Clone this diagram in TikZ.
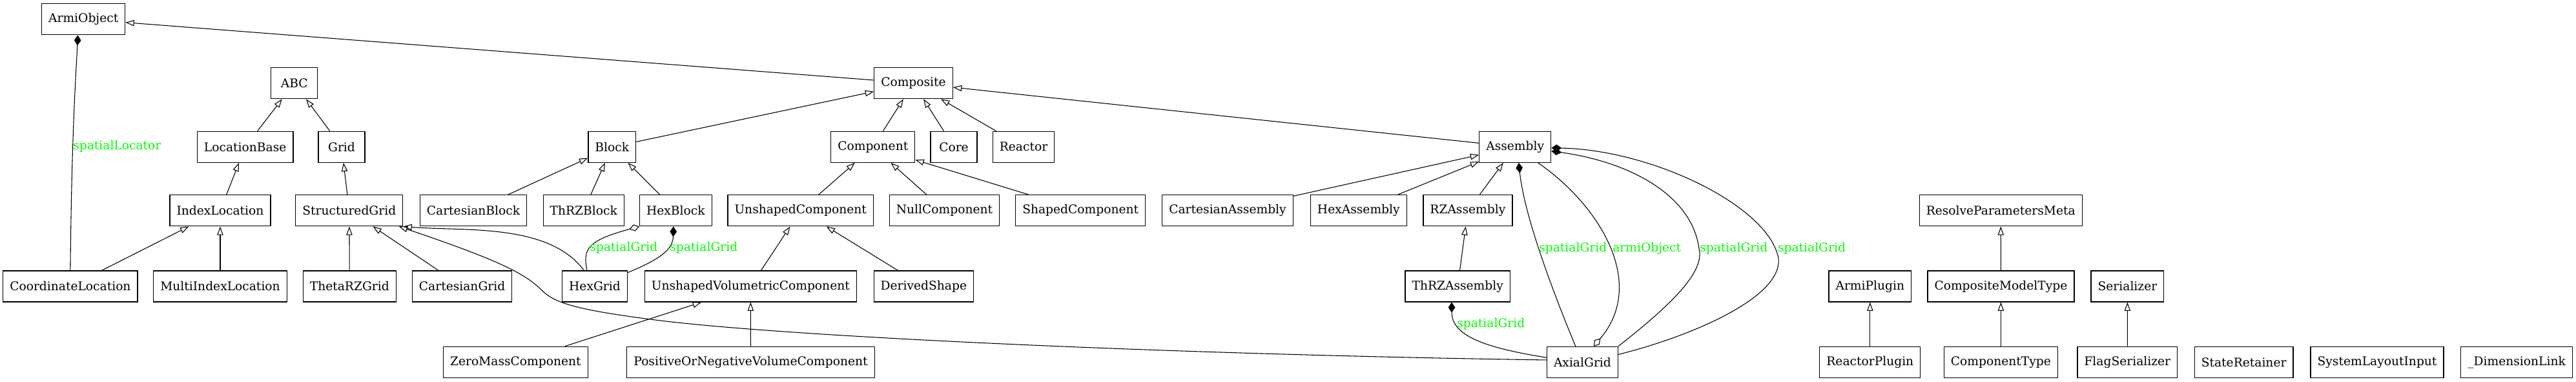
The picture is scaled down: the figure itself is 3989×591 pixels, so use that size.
\documentclass[tikz,border=0pt]{standalone}
\usepackage{fontspec}
\setmainfont{DejaVu Serif}
\usetikzlibrary{arrows.meta}

\begin{document}
\begin{tikzpicture}[x=0.75pt, y=-0.75pt,
        cls/.style = {draw, line width=0.9pt, minimum width=54pt, minimum height=36pt,
            inner xsep=7.92pt, inner ysep=0pt, font=\fontsize{14pt}{16pt}\selectfont},
        lbl/.style = {text=green, anchor=west, inner sep=0pt, font=\fontsize{14pt}{16pt}\selectfont},
        isA/.style = {-{Triangle[open, length=10pt, width=7pt]}, line width=0.8pt},
        hasA/.style = {-{Diamond[length=12pt, width=8pt]}, line width=0.8pt},
        hasAopen/.style = {-{Diamond[open, length=12pt, width=8pt]}, line width=0.8pt}]

            \useasboundingbox (0,0) rectangle (3989,591);

            % Classes, row by row
            \node[cls] (ArmiObject) at (129.2,29.8) {ArmiObject};

            \node[cls] (ABC) at (455.8,128.7) {ABC};
            \node[cls] (Composite) at (1414.5,128.7) {Composite};

            \node[cls] (LocationBase) at (379.7,227.3) {LocationBase};
            \node[cls] (Grid) at (529,227.3) {Grid};
            \node[cls] (Block) at (947.8,227.3) {Block};
            \node[cls] (Component) at (1351.8,227.3) {Component};
            \node[cls] (Core) at (1477,227.3) {Core};
            \node[cls] (Reactor) at (1585,227.3) {Reactor};
            \node[cls] (Assembly) at (2346.2,227.3) {Assembly};

            \node[cls] (IndexLocation) at (341,325.8) {IndexLocation};
            \node[cls] (StructuredGrid) at (540.8,325.8) {StructuredGrid};
            \node[cls] (CartesianBlock) at (733,325.8) {CartesianBlock};
            \node[cls] (ThRZBlock) at (903.8,325.8) {ThRZBlock};
            \node[cls] (HexBlock) at (1046.4,325.8) {HexBlock};
            \node[cls] (UnshapedComponent) at (1239.7,325.8) {UnshapedComponent};
            \node[cls] (NullComponent) at (1462.5,325.8) {NullComponent};
            \node[cls] (ShapedComponent) at (1673.2,325.8) {ShapedComponent};
            \node[cls] (CartesianAssembly) at (1901,325.8) {CartesianAssembly};
            \node[cls] (HexAssembly) at (2103.8,325.8) {HexAssembly};
            \node[cls] (RZAssembly) at (2272.9,325.8) {RZAssembly};
            \node[cls] (ResolveParametersMeta) at (3098.2,325.8) {ResolveParametersMeta};

            \node[cls] (CoordinateLocation) at (108.9,443) {CoordinateLocation};
            \node[cls] (MultiIndexLocation) at (341,443) {MultiIndexLocation};
            \node[cls] (ThetaRZGrid) at (541.3,443) {ThetaRZGrid};
            \node[cls] (CartesianGrid) at (715.6,443) {CartesianGrid};
            \node[cls] (HexGrid) at (921,443) {HexGrid};
            \node[cls] (UnshapedVolumetricComponent) at (1162.3,443) {UnshapedVolumetricComponent};
            \node[cls] (DerivedShape) at (1430.4,443) {DerivedShape};
            \node[cls] (ThRZAssembly) at (2257.2,443) {ThRZAssembly};
            \node[cls] (ArmiPlugin) at (2895.8,443) {ArmiPlugin};
            \node[cls] (CompositeModelType) at (3098.4,443) {CompositeModelType};
            \node[cls] (Serializer) at (3294.4,443) {Serializer};

            \node[cls] (ZeroMassComponent) at (798.4,560.3) {ZeroMassComponent};
            \node[cls] (PositiveOrNegativeVolumeComponent) at (1162.5,560.3) {PositiveOrNegativeVolumeComponent};
            \node[cls] (AxialGrid) at (2450.4,560.3) {AxialGrid};
            \node[cls] (ReactorPlugin) at (2895.8,560.3) {ReactorPlugin};
            \node[cls] (ComponentType) at (3098.4,560.3) {ComponentType};
            \node[cls] (FlagSerializer) at (3294.3,560.3) {FlagSerializer};
            \node[cls] (StateRetainer) at (3474.6,560.3) {StateRetainer};
            \node[cls] (SystemLayoutInput) at (3681,560.3) {SystemLayoutInput};
            \node[cls] (DimensionLink) at (3897,560.3) {\_DimensionLink};

            % Inheritance
            \draw[isA] (Composite) -- (ArmiObject);
            \draw[isA] (LocationBase) -- (ABC);
            \draw[isA] (Grid) -- (ABC);
            \draw[isA] (IndexLocation) -- (LocationBase);
            \draw[isA] (StructuredGrid) -- (Grid);
            \draw[isA] (CoordinateLocation) -- (IndexLocation);
            \draw[isA] (MultiIndexLocation) -- (IndexLocation);
            \draw[isA] (ThetaRZGrid) -- (StructuredGrid);
            \draw[isA] (CartesianGrid) -- (StructuredGrid);
            \draw[isA] (Block) -- (Composite);
            \draw[isA] (Component) -- (Composite);
            \draw[isA] (Core) -- (Composite);
            \draw[isA] (Reactor) -- (Composite);
            \draw[isA] (Assembly) -- (Composite);
            \draw[isA] (CartesianBlock) -- (Block);
            \draw[isA] (ThRZBlock) -- (Block);
            \draw[isA] (HexBlock) -- (Block);
            \draw[isA] (UnshapedComponent) -- (Component);
            \draw[isA] (NullComponent) -- (Component);
            \draw[isA] (ShapedComponent) -- (Component);
            \draw[isA] (UnshapedVolumetricComponent) -- (UnshapedComponent);
            \draw[isA] (DerivedShape) -- (UnshapedComponent);
            \draw[isA] (ZeroMassComponent) -- (UnshapedVolumetricComponent);
            \draw[isA] (PositiveOrNegativeVolumeComponent) -- (UnshapedVolumetricComponent);
            \draw[isA] (CartesianAssembly) -- (Assembly);
            \draw[isA] (HexAssembly) -- (Assembly);
            \draw[isA] (RZAssembly) -- (Assembly);
            \draw[isA] (ThRZAssembly) -- (RZAssembly);
            \draw[isA] (CompositeModelType) -- (ResolveParametersMeta);
            \draw[isA] (ComponentType) -- (CompositeModelType);
            \draw[isA] (ReactorPlugin) -- (ArmiPlugin);
            \draw[isA] (FlagSerializer) -- (Serializer);
            \draw[isA] ([xshift=-12.5pt]HexGrid.north) .. controls (850,345) and (720,358) .. (StructuredGrid.south east);
            \draw[isA] ([yshift=2.5pt]AxialGrid.west) .. controls (1800,548) and (1200,520) .. (1007,494)
                .. controls (900,480) and (860,470) .. (840,450)
                .. controls (815,425) and (780,405) .. ([xshift=-5pt]StructuredGrid.south east);

            % Associations
            \draw[hasA] (CoordinateLocation.north) .. controls (111,200) and (118,110) .. ([xshift=-6.5pt]ArmiObject.south);
            \draw[hasAopen] ([xshift=-9pt]HexGrid.north) .. controls (902,385) and (910,372) .. (HexBlock.south west);
            \draw[hasA] ([yshift=-2.5pt]HexGrid.north east) .. controls (1025,400) and (1042,385) .. ([xshift=-2.7pt]HexBlock.south);
            \draw[hasA] ([yshift=5.3pt]AxialGrid.west) .. controls (2300,538) and (2248,520) .. ([xshift=-6.9pt]ThRZAssembly.south);
            \draw[hasA] ([xshift=-8pt]AxialGrid.north) .. controls (2400,440) and (2360,330) .. ([xshift=4.2pt]Assembly.south);
            \draw[hasAopen] ([xshift=26.6pt]Assembly.south) .. controls (2480,320) and (2550,440) .. ([xshift=13pt]AxialGrid.north);
            \draw[hasA] (AxialGrid.north east) .. controls (2590,470) and (2640,420) .. (2631,385)
                .. controls (2620,300) and (2520,250) .. ([yshift=-4.8pt]Assembly.east);
            \draw[hasA] ([yshift=8.9pt]AxialGrid.east) .. controls (2620,520) and (2760,460) .. (2754,400)
                .. controls (2740,320) and (2560,232) .. ([yshift=-1.1pt]Assembly.east);

            % Role names
            \node[lbl] (lblLocator) at (113,226) {spatialLocator};
            \node[lbl] (lblHexOpen) at (913,383.7) {spatialGrid};
            \node[lbl] (lblHexFull) at (1037,383.7) {spatialGrid};
            \node[lbl] (lblThRZ) at (2256,501.3) {spatialGrid};
            \node[lbl] (lblAsmA) at (2383,384) {spatialGrid};
            \node[lbl] (lblArmi) at (2497,384) {armiObject};
            \node[lbl] (lblAsmB) at (2632,384) {spatialGrid};
            \node[lbl] (lblAsmC) at (2752.7,384) {spatialGrid};
        \end{tikzpicture}
\end{document}
